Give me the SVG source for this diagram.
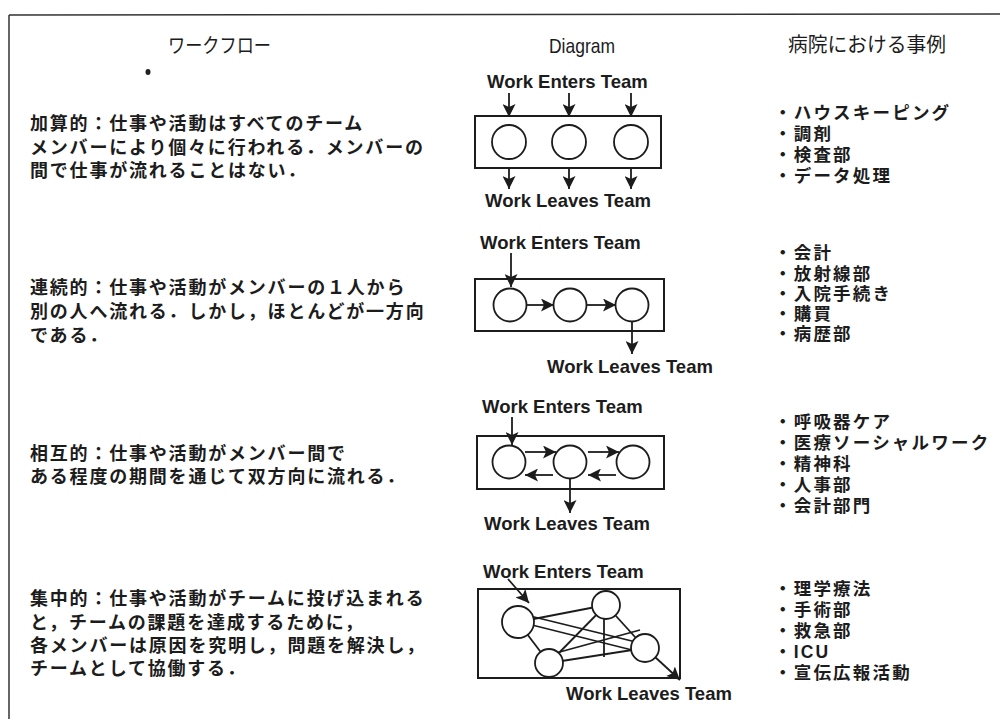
<svg xmlns="http://www.w3.org/2000/svg" width="1006" height="719" viewBox="0 0 1006 719">
<style>
.jp{font-family:"Liberation Sans","Noto Sans CJK JP","Noto Sans CJK SC",sans-serif;font-size:18px;fill:#1c1c1c;letter-spacing:1.8px;font-weight:bold}
.jr{font-family:"Liberation Sans","Noto Sans CJK JP","Noto Sans CJK SC",sans-serif;font-size:17.5px;fill:#1c1c1c;letter-spacing:2.2px;font-weight:bold}
.hd{font-family:"Noto Sans CJK JP","Noto Sans CJK SC",sans-serif;font-size:20px;fill:#1c1c1c}
.en{font-family:"Liberation Sans",Arial,sans-serif;font-size:18.5px;font-weight:bold;fill:#1c1c1c}
.box{fill:none;stroke:#1c1c1c;stroke-width:2}
.nd{fill:#fff;stroke:#1c1c1c;stroke-width:1.8}
.ln{fill:none;stroke:#1c1c1c;stroke-width:1.8}
.ar{fill:none;stroke:#1c1c1c;stroke-width:1.8;marker-end:url(#ah)}
</style>
<defs>
<marker id="ah" markerUnits="userSpaceOnUse" markerWidth="14" markerHeight="13" refX="13" refY="6.5" orient="auto">
<path d="M0,0 L13,6.5 L0,13 L3,6.5 z" fill="#1c1c1c"/>
</marker>
</defs>
<rect width="1006" height="719" fill="#fff"/>
<g id="frame">
<line x1="9" y1="15" x2="1000" y2="14" stroke="#333" stroke-width="1.5"/>
<line x1="9" y1="15" x2="9" y2="719" stroke="#333" stroke-width="1.5"/>
<ellipse cx="148" cy="72" rx="2.5" ry="3" fill="#222"/>
</g>
<g id="headers">
<text class="hd" x="168" y="53" textLength="103" lengthAdjust="spacingAndGlyphs">ワークフロー</text>
<text x="549" y="53" font-family="Liberation Sans,Arial,sans-serif" font-size="21" fill="#1c1c1c" textLength="66" lengthAdjust="spacingAndGlyphs">Diagram</text>
<text class="hd" x="788" y="52" textLength="158" lengthAdjust="spacingAndGlyphs">病院における事例</text>
</g>
<g id="workflow-text">
<text class="jp"><tspan x="30" y="130">加算的：仕事や活動はすべてのチーム</tspan><tspan x="30" y="154">メンバーにより個々に行われる．メンバーの</tspan><tspan x="30" y="177">間で仕事が流れることはない．</tspan></text>
<text class="jp"><tspan x="30" y="294">連続的：仕事や活動がメンバーの１人から</tspan><tspan x="30" y="318">別の人へ流れる．しかし，ほとんどが一方向</tspan><tspan x="30" y="342">である．</tspan></text>
<text class="jp"><tspan x="30" y="460">相互的：仕事や活動がメンバー間で</tspan><tspan x="30" y="483">ある程度の期間を通じて双方向に流れる．</tspan></text>
<text class="jp"><tspan x="30" y="605">集中的：仕事や活動がチームに投げ込まれる</tspan><tspan x="30" y="629">と，チームの課題を達成するために，</tspan><tspan x="30" y="652">各メンバーは原因を究明し，問題を解決し，</tspan><tspan x="30" y="675">チームとして協働する．</tspan></text>
</g>
<g id="examples">
<text class="jr"><tspan x="774" y="119">・ハウスキーピング</tspan><tspan x="774" y="140">・調剤</tspan><tspan x="774" y="161">・検査部</tspan><tspan x="774" y="182">・データ処理</tspan></text>
<text class="jr"><tspan x="774" y="259">・会計</tspan><tspan x="774" y="279.5">・放射線部</tspan><tspan x="774" y="300">・入院手続き</tspan><tspan x="774" y="320">・購買</tspan><tspan x="774" y="340">・病歴部</tspan></text>
<text class="jr"><tspan x="774" y="428">・呼吸器ケア</tspan><tspan x="774" y="449">・医療ソーシャルワーク</tspan><tspan x="774" y="470">・精神科</tspan><tspan x="774" y="491">・人事部</tspan><tspan x="774" y="512">・会計部門</tspan></text>
<text class="jr"><tspan x="774" y="595">・理学療法</tspan><tspan x="774" y="616">・手術部</tspan><tspan x="774" y="637">・救急部</tspan><tspan x="774" y="658">・ICU</tspan><tspan x="774" y="679">・宣伝広報活動</tspan></text>
</g>
<g id="diagram1">
<text class="en" x="487" y="88">Work Enters Team</text>
<rect class="box" x="475" y="116" width="186" height="52"/>
<circle class="nd" cx="509" cy="142" r="17"/>
<circle class="nd" cx="569" cy="142" r="17"/>
<circle class="nd" cx="631" cy="142" r="17"/>
<text class="en" x="485" y="207">Work Leaves Team</text>
</g>
<g id="diagram2">
<text class="en" x="480" y="249">Work Enters Team</text>
<rect class="box" x="475" y="279" width="189" height="52"/>
<circle class="nd" cx="510" cy="305" r="16.5"/>
<circle class="nd" cx="570" cy="305" r="16.5"/>
<circle class="nd" cx="632" cy="305" r="16.5"/>
<text class="en" x="547" y="373">Work Leaves Team</text>
</g>
<g id="diagram3">
<text class="en" x="482" y="413">Work Enters Team</text>
<rect class="box" x="477" y="436" width="187" height="53"/>
<circle class="nd" cx="509" cy="462" r="16.5"/>
<circle class="nd" cx="570" cy="462" r="16.5"/>
<circle class="nd" cx="633" cy="462" r="16.5"/>
<text class="en" x="484" y="530">Work Leaves Team</text>
</g>
<g id="diagram4">
<text class="en" x="483" y="578">Work Enters Team</text>
<rect class="box" x="478" y="589" width="202" height="89"/>
<text class="en" x="566" y="700">Work Leaves Team</text>
</g>
<g id="connectors">
<line class="ar" x1="509" y1="93" x2="509" y2="117"/>
<line class="ar" x1="569" y1="93" x2="569" y2="117"/>
<line class="ar" x1="631" y1="93" x2="631" y2="117"/>
<line class="ar" x1="509" y1="168" x2="509" y2="189"/>
<line class="ar" x1="569" y1="168" x2="569" y2="189"/>
<line class="ar" x1="631" y1="168" x2="631" y2="189"/>
<line class="ar" x1="511" y1="253" x2="511" y2="287"/>
<line class="ar" x1="527" y1="305" x2="554" y2="305"/>
<line class="ar" x1="587" y1="305" x2="616" y2="305"/>
<line class="ar" x1="632" y1="322" x2="632" y2="354"/>
<line class="ar" x1="512" y1="417" x2="512" y2="445"/>
<line class="ar" x1="525" y1="452" x2="556" y2="452"/>
<line class="ar" x1="553" y1="475" x2="525" y2="475"/>
<line class="ar" x1="588" y1="452" x2="619" y2="452"/>
<line class="ar" x1="616" y1="475" x2="588" y2="475"/>
<line class="ar" x1="570" y1="478" x2="570" y2="513"/>
<line class="ar" x1="508" y1="579" x2="529" y2="603"/>
<line class="ln" x1="518" y1="622" x2="606" y2="605"/>
<line class="ln" x1="518" y1="622" x2="549" y2="663"/>
<line class="ln" x1="530" y1="616" x2="640" y2="643"/>
<line class="ln" x1="528" y1="624" x2="636" y2="651"/>
<line class="ln" x1="606" y1="605" x2="549" y2="663"/>
<line class="ln" x1="606" y1="605" x2="645" y2="648"/>
<line class="ln" x1="549" y1="663" x2="645" y2="648"/>
<line class="ln" x1="556" y1="653" x2="640" y2="630"/>
<line class="ln" x1="604" y1="605" x2="604" y2="657"/>
<line class="ar" x1="655" y1="657" x2="680" y2="680"/>
</g>
<g id="d4nodes">
<circle class="nd" cx="518" cy="622" r="16"/>
<circle class="nd" cx="606" cy="605" r="14"/>
<circle class="nd" cx="549" cy="663" r="14"/>
<circle class="nd" cx="645" cy="648" r="14"/>
</g>
</svg>
